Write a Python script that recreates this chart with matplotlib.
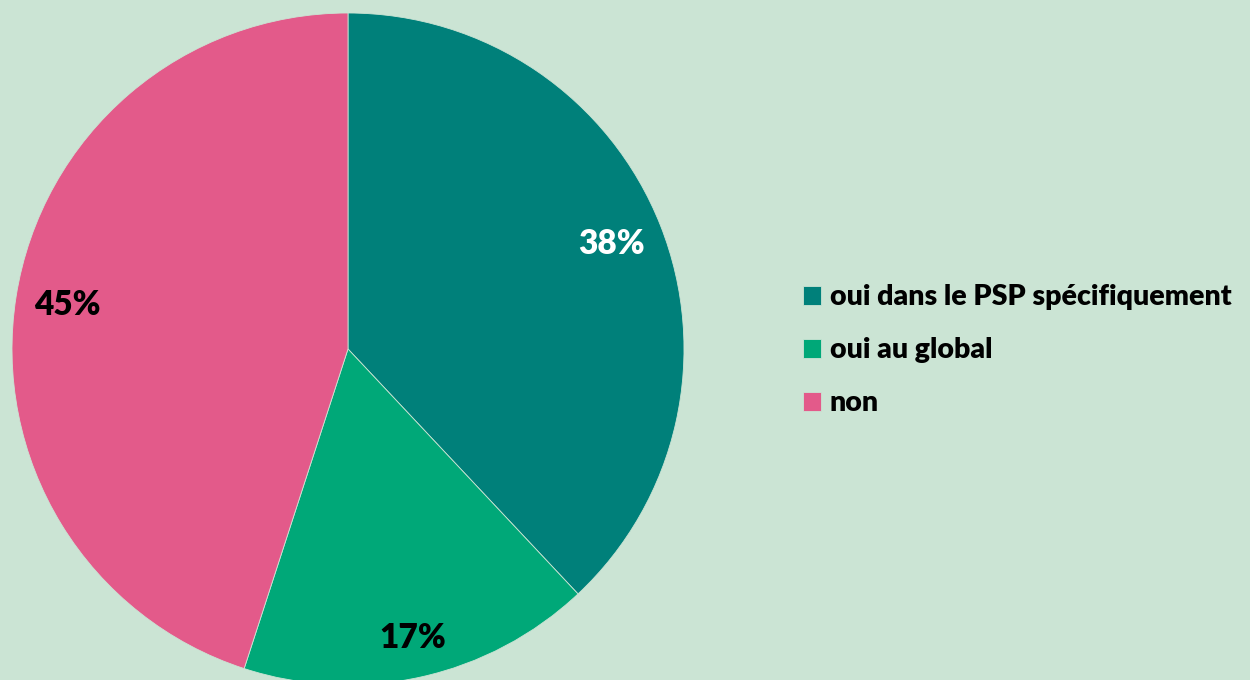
import matplotlib
matplotlib.use("Agg")
import matplotlib.pyplot as plt
import numpy as np

categories = ["oui dans le PSP spécifiquement", "oui au global", "non"]
values = [38, 17, 45]
colors = ["#00807A", "#00A878", "#E35A8A"]
label_colors = ["white", "black", "black"]
label_dist = [0.845, 0.88, 0.845]
bg = "#CBE4D4"

plt.rcParams['font.family'] = ['Lato', 'DejaVu Sans']

fig = plt.figure(figsize=(12.5, 6.8), dpi=100, facecolor=bg)
ax = fig.add_axes([0, 0, 1, 1])
ax.set_facecolor(bg)

cx, cy, R = 348, 331, 336
wedges, texts, autotexts = ax.pie(
    values, colors=colors, startangle=90, counterclock=False,
    center=(cx, cy), radius=R, frame=True,
    autopct=lambda p: f"{p:.0f}%", pctdistance=0.85,
    wedgeprops=dict(edgecolor=bg, linewidth=0.6),
    textprops=dict(fontsize=24, fontweight='heavy'))
for w, t, c, d in zip(wedges, autotexts, label_colors, label_dist):
    t.set_color(c)
    ang = np.deg2rad((w.theta1 + w.theta2) / 2)
    t.set_position((cx + d * R * np.cos(ang), cy + d * R * np.sin(ang)))

ax.set_xlim(0, 1250)
ax.set_ylim(0, 680)
ax.set_aspect('equal', adjustable='datalim')
ax.set_axis_off()

leg = ax.legend(wedges, categories, loc='center left', bbox_to_anchor=(0.622, 0.485),
                frameon=False, prop=dict(size=20.5, weight='heavy'),
                handlelength=0.64, handleheight=0.64, handletextpad=0.3,
                labelspacing=0.95)

fig.savefig("out.png", dpi=100, facecolor=bg)
